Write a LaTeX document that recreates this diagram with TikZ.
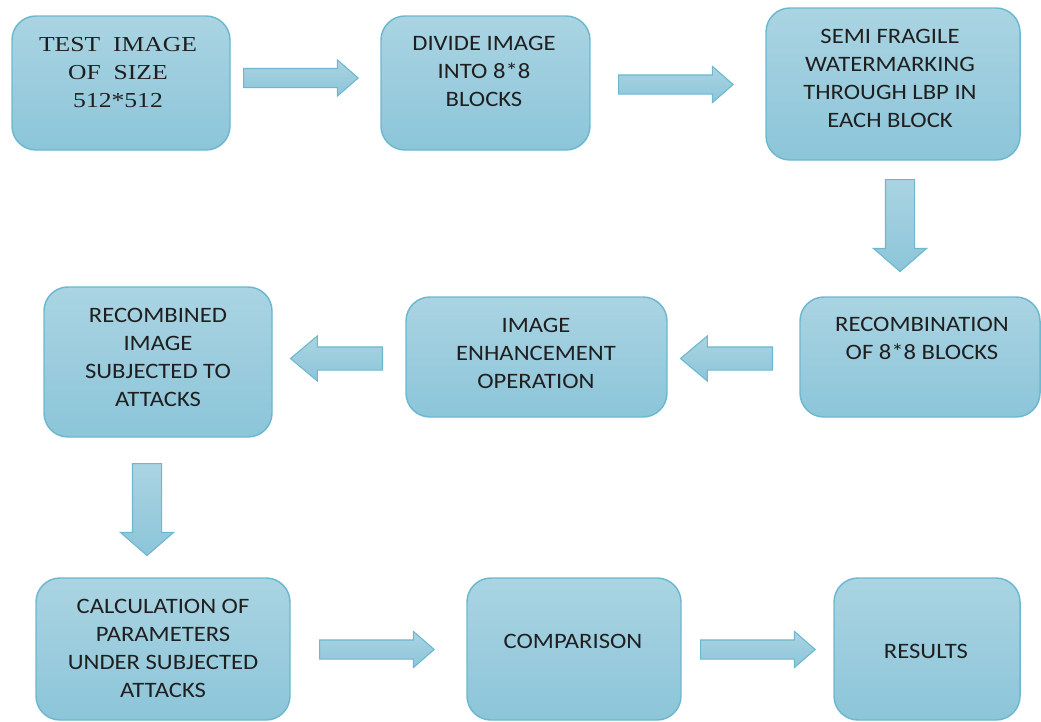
\documentclass[tikz,border=0pt]{standalone}
\usepackage{fontspec}
\setmainfont{Carlito}[FakeStretch=1.12]
\newfontfamily\serifbox{Liberation Serif}[FakeStretch=1.2]
\usetikzlibrary{shapes.arrows}

\definecolor{boxtop}{HTML}{AAD4E2}
\definecolor{boxbot}{HTML}{8CC5D9}
\definecolor{boxline}{HTML}{6BB8CF}

\tikzset{
  stage/.style={draw=boxline, line width=1.1pt, rounded corners=18pt,
    top color=boxtop, bottom color=boxbot, inner sep=0pt},
  stagetext/.style={align=center, inner sep=0pt, text=black!88,
    font=\fontsize{16.5}{21}\selectfont},
  flowarrow/.style={single arrow, draw=boxline, line width=0.8pt,
    top color=boxtop, bottom color=boxbot, anchor=tail,
    single arrow head indent=0pt},
  harrow/.style={flowarrow, minimum height=86pt, inner sep=6.75pt,
    single arrow head extend=6.4pt, single arrow tip angle=82},
  varrow/.style={flowarrow, minimum height=69pt, inner sep=10.5pt,
    single arrow head extend=9pt, single arrow tip angle=98, shape border rotate=270},
  larrow/.style={flowarrow, minimum height=69pt, inner sep=8.25pt,
    single arrow head extend=8.25pt, single arrow tip angle=80, shape border rotate=180}
}

\begin{document}
\begin{tikzpicture}[x=0.75pt, y=-0.75pt]
\useasboundingbox (0,0) rectangle (1041,721);

% boxes
\node[stage, minimum width=163.5pt, minimum height=100.5pt] (test) at (121,83) {};
\node[stage, minimum width=156.75pt, minimum height=100.5pt] (divide) at (485.5,83) {};
\node[stage, minimum width=190.5pt, minimum height=114pt] (semi) at (893,84) {};
\node[stage, minimum width=180pt, minimum height=90pt] (recomb) at (920,357) {};
\node[stage, minimum width=195.75pt, minimum height=90pt] (enhance) at (536.5,357) {};
\node[stage, minimum width=171pt, minimum height=112.5pt] (attack) at (158,362) {};
\node[stage, minimum width=190.5pt, minimum height=106.5pt] (calc) at (163,649) {};
\node[stage, minimum width=160.5pt, minimum height=106.5pt] (compare) at (574,649) {};
\node[stage, minimum width=139.5pt, minimum height=106.5pt] (result) at (927,649) {};

% texts
\node[stagetext, font=\serifbox\fontsize{16}{21}\selectfont] (testtxt) at (118,72.5) {TEST\ \ IMAGE\\OF\ \ SIZE\\512*512};
\node[stagetext] (dividetxt) at (484,71.5) {DIVIDE IMAGE\\INTO 8*8\\BLOCKS};
\node[stagetext] (semitxt) at (890,78.5) {SEMI FRAGILE\\WATERMARKING\\THROUGH LBP IN\\EACH BLOCK};
\node[stagetext] (recombtxt) at (922,338.5) {RECOMBINATION\\OF 8*8 BLOCKS};
\node[stagetext] (enhancetxt) at (536,353) {IMAGE\\ENHANCEMENT\\OPERATION};
\node[stagetext] (attacktxt) at (158,357.5) {RECOMBINED\\IMAGE\\SUBJECTED TO\\ATTACKS};
\node[stagetext] (calctxt) at (163,648.5) {CALCULATION OF\\PARAMETERS\\UNDER SUBJECTED\\ATTACKS};
\node[stagetext] (comparetxt) at (573,641) {COMPARISON};
\node[stagetext] (resulttxt) at (926,651) {RESULTS};

% block arrows (placed by their tails)
\node[harrow] (a1) at (243,78) {};
\node[harrow] (a2) at (618,84.5) {};
\node[varrow] (a3) at (900,179) {};
\node[larrow] (a4) at (773,358.5) {};
\node[larrow] (a5) at (383,358.5) {};
\node[varrow] (a6) at (147,463) {};
\node[harrow] (a7) at (319,649.5) {};
\node[harrow] (a8) at (700,649.5) {};

\end{tikzpicture}
\end{document}
